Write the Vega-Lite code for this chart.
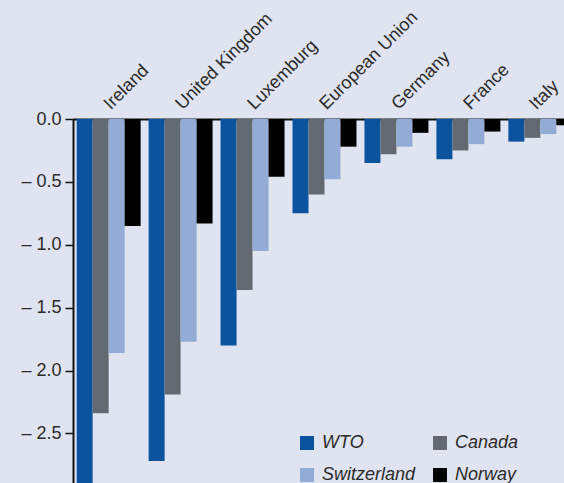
{
  "$schema": "https://vega.github.io/schema/vega-lite/v6.json",
  "width": 491,
  "height": 364,
  "autosize": {"type": "none"},
  "padding": {"left": 73, "top": 119, "right": 0, "bottom": 0},
  "background": "#dfe4f0",
  "config": {
    "view": {"stroke": null},
    "font": "Liberation Sans",
    "axis": {"labelFont": "Liberation Sans", "labelColor": "#2a2a2a"}
  },
  "data": {
    "values": [
      {"country": "Ireland", "series": "WTO", "value": -3.0},
      {"country": "Ireland", "series": "Canada", "value": -2.34},
      {"country": "Ireland", "series": "Switzerland", "value": -1.86},
      {"country": "Ireland", "series": "Norway", "value": -0.85},
      {"country": "United Kingdom", "series": "WTO", "value": -2.72},
      {"country": "United Kingdom", "series": "Canada", "value": -2.19},
      {"country": "United Kingdom", "series": "Switzerland", "value": -1.77},
      {"country": "United Kingdom", "series": "Norway", "value": -0.83},
      {"country": "Luxemburg", "series": "WTO", "value": -1.80},
      {"country": "Luxemburg", "series": "Canada", "value": -1.36},
      {"country": "Luxemburg", "series": "Switzerland", "value": -1.05},
      {"country": "Luxemburg", "series": "Norway", "value": -0.46},
      {"country": "European Union", "series": "WTO", "value": -0.75},
      {"country": "European Union", "series": "Canada", "value": -0.60},
      {"country": "European Union", "series": "Switzerland", "value": -0.48},
      {"country": "European Union", "series": "Norway", "value": -0.22},
      {"country": "Germany", "series": "WTO", "value": -0.35},
      {"country": "Germany", "series": "Canada", "value": -0.28},
      {"country": "Germany", "series": "Switzerland", "value": -0.22},
      {"country": "Germany", "series": "Norway", "value": -0.11},
      {"country": "France", "series": "WTO", "value": -0.32},
      {"country": "France", "series": "Canada", "value": -0.25},
      {"country": "France", "series": "Switzerland", "value": -0.20},
      {"country": "France", "series": "Norway", "value": -0.10},
      {"country": "Italy", "series": "WTO", "value": -0.18},
      {"country": "Italy", "series": "Canada", "value": -0.15},
      {"country": "Italy", "series": "Switzerland", "value": -0.12},
      {"country": "Italy", "series": "Norway", "value": -0.05}
    ]
  },
  "mark": {"type": "bar", "clip": true},
  "encoding": {
    "x": {
      "field": "country",
      "type": "nominal",
      "sort": null,
      "scale": {"range": [0, 503], "paddingInner": 0.111, "paddingOuter": 0.051},
      "axis": {
        "orient": "top",
        "title": null,
        "labelAngle": -45,
        "labelAlign": "left",
        "labelBaseline": "alphabetic",
        "labelFontSize": 18,
        "labelPadding": 9,
        "labelOffset": {"condition": {"test": "datum.value === 'Italy'", "value": -4}, "value": 2},
        "ticks": false,
        "domainColor": "#111111",
        "domainWidth": 2
      }
    },
    "xOffset": {
      "field": "series",
      "type": "nominal",
      "sort": ["WTO", "Canada", "Switzerland", "Norway"],
      "scale": {"paddingInner": 0, "paddingOuter": 0}
    },
    "y": {
      "field": "value",
      "type": "quantitative",
      "scale": {"domain": [-2.894, 0], "nice": false, "zero": false},
      "axis": {
        "title": null,
        "values": [0, -0.5, -1, -1.5, -2, -2.5],
        "labelExpr": "datum.value == 0 ? '0.0' : '–  ' + format(-datum.value, '.1f')",
        "labelFontSize": 18,
        "labelPadding": 4,
        "tickSize": 8,
        "tickColor": "#111111",
        "tickWidth": 1.5,
        "domainColor": "#111111",
        "domainWidth": 2,
        "grid": false
      }
    },
    "color": {
      "field": "series",
      "type": "nominal",
      "sort": ["WTO", "Canada", "Switzerland", "Norway"],
      "scale": {
        "domain": ["WTO", "Canada", "Switzerland", "Norway"],
        "range": ["#0b529f", "#646870", "#93acd5", "#000000"]
      },
      "legend": {
        "title": null,
        "orient": "none",
        "direction": "horizontal",
        "legendX": 225,
        "legendY": 315,
        "columns": 2,
        "symbolType": "square",
        "symbolSize": 196,
        "symbolStrokeWidth": 0,
        "labelFontSize": 18,
        "labelFontStyle": "italic",
        "labelColor": "#2a2a2a",
        "labelOffset": 6,
        "columnPadding": 15,
        "rowPadding": 14
      }
    }
  }
}
